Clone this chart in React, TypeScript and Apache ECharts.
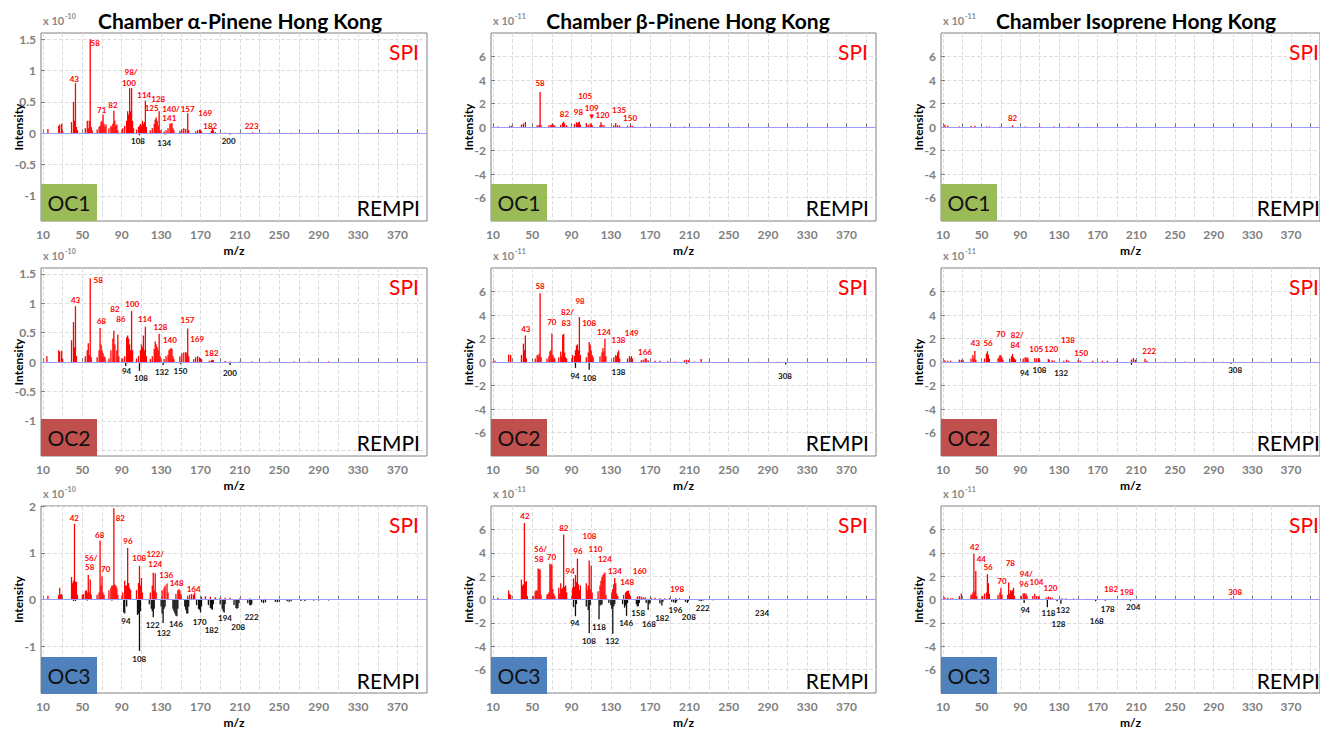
import React, { useEffect, useRef } from "react";
import * as echarts from "echarts";

type Pk = [number, number][];
type Lb = [number, number, string][];

// ---------- axis ticks ----------
const X_LABELS = [10, 50, 90, 130, 170, 210, 250, 290, 330, 370];
const X_GRID = [10, 30, 50, 70, 90, 110, 130, 150, 170, 190, 210, 230, 250, 270, 290, 310, 330, 350, 370, 390];
const Y_A1_TICKS = [-1, -0.5, 0, 0.5, 1, 1.5];
const Y_A2_TICKS = [-1.5, -1, -0.5, 0, 0.5, 1, 1.5];
const Y_A2_LABELS = [-1, -0.5, 0, 0.5, 1, 1.5];
const Y_A3_TICKS = [-1, 0, 1, 2];
const Y_B_TICKS = [-6, -4, -2, 0, 2, 4, 6];

const TITLES = ["Chamber α-Pinene Hong Kong", "Chamber β-Pinene Hong Kong", "Chamber Isoprene Hong Kong"];
const EXPONENTS = ["-10", "-11", "-11"];
const OC_NAMES = ["OC1", "OC2", "OC3"];

// ---------- α-Pinene OC1 (x1e-10) ----------
const A1_SPI: Pk = [[15,0.07],[26,0.12],[27,0.14],[29,0.15],[30,0.03],[39,0.18],[41,0.5],[42,0.2],[43,0.8],[44,0.1],[45,0.05],[53,0.08],[55,0.2],[56,0.08],[57,0.2],[58,1.5],[59,0.1],[60,0.05],[65,0.06],[67,0.1],[68,0.12],[69,0.18],[70,0.2],[71,0.3],[72,0.15],[73,0.1],[74,0.14],[77,0.08],[79,0.12],[80,0.1],[81,0.15],[82,0.36],[83,0.2],[84,0.12],[85,0.14],[86,0.05],[91,0.08],[93,0.12],[95,0.2],[96,0.35],[97,0.3],[98,0.72],[99,0.35],[100,0.72],[101,0.2],[102,0.08],[105,0.06],[107,0.1],[108,0.12],[109,0.15],[110,0.12],[111,0.2],[112,0.15],[113,0.18],[114,0.52],[115,0.1],[119,0.05],[121,0.08],[123,0.15],[124,0.22],[125,0.25],[126,0.2],[127,0.12],[128,0.35],[129,0.05],[133,0.03],[135,0.05],[137,0.08],[139,0.15],[140,0.16],[141,0.16],[142,0.08],[143,0.05],[149,0.04],[151,0.06],[153,0.08],[155,0.07],[157,0.32],[158,0.05],[165,0.03],[167,0.05],[169,0.06],[170,0.05],[171,0.03],[181,0.04],[182,0.08],[183,0.05],[185,0.02],[195,0.01],[200,0.01],[210,0.01],[223,0.015],[240,0.01],[262,0.01],[285,0.01],[310,0.01],[340,0.01],[365,0.01]];
const A1_REMPI: Pk = [[108,-0.03],[134,-0.02],[200,-0.02]];
const A1_SPI_LAB: Lb = [[63.1,1.44,"58"],[41.8,0.87,"43"],[99.4,0.97,"98/"],[97.3,0.8,"100"],[69.6,0.37,"71"],[81.1,0.45,"82"],[112.9,0.61,"114"],[127.1,0.54,"128"],[120.3,0.41,"125"],[140,0.39,"140/"],[156.9,0.39,"157"],[138.3,0.24,"141"],[174.8,0.33,"169"],[179.9,0.12,"182"],[221.9,0.11,"223"]];
const A1_REM_LAB: Lb = [[106.5,-0.13,"108"],[133.2,-0.15,"134"],[198.5,-0.12,"200"]];

// ---------- α-Pinene OC2 (x1e-10) ----------
const A2_SPI: Pk = [[14,0.1],[26,0.2],[27,0.18],[29,0.19],[30,0.05],[39,0.37],[41,0.68],[42,0.25],[43,0.95],[44,0.1],[53,0.1],[55,0.2],[56,0.32],[57,0.12],[58,1.42],[59,0.08],[65,0.08],[67,0.2],[68,0.58],[69,0.3],[70,0.2],[71,0.15],[72,0.1],[73,0.08],[77,0.06],[79,0.2],[81,0.4],[82,0.53],[83,0.3],[85,0.2],[86,0.47],[87,0.1],[91,0.06],[93,0.1],[95,0.42],[96,0.45],[97,0.4],[98,0.3],[99,0.2],[100,0.87],[101,0.2],[105,0.06],[107,0.1],[109,0.2],[110,0.3],[111,0.25],[112,0.45],[113,0.2],[114,0.6],[115,0.1],[119,0.05],[121,0.1],[123,0.22],[124,0.35],[125,0.3],[126,0.25],[127,0.2],[128,0.48],[129,0.1],[133,0.05],[135,0.1],[137,0.12],[138,0.2],[139,0.22],[140,0.24],[141,0.22],[142,0.1],[143,0.05],[149,0.1],[151,0.15],[153,0.16],[155,0.17],[156,0.15],[157,0.57],[158,0.1],[163,0.05],[165,0.08],[167,0.1],[169,0.08],[170,0.06],[171,0.05],[179,0.02],[181,0.03],[182,0.04],[183,0.03],[195,0.015],[200,0.01],[210,0.01],[222,0.01],[240,0.01],[265,0.01],[280,0.01],[300,0.01]];
const A2_REMPI: Pk = [[94,-0.07],[96,-0.02],[108,-0.15],[110,-0.02],[132,-0.05],[134,-0.02],[150,-0.04],[200,-0.05]];
const A2_SPI_LAB: Lb = [[66.1,1.4,"58"],[43.1,1.06,"43"],[83.1,0.91,"82"],[100.7,0.98,"100"],[89.1,0.74,"86"],[69.5,0.7,"68"],[113.5,0.74,"114"],[129.4,0.6,"128"],[156.8,0.71,"157"],[138.9,0.37,"140"],[166.6,0.4,"169"],[181.2,0.16,"182"]];
const A2_REM_LAB: Lb = [[94.9,-0.15,"94"],[109.5,-0.27,"108"],[130.8,-0.17,"132"],[149.7,-0.15,"150"],[199.8,-0.19,"200"]];

// ---------- α-Pinene OC3 (x1e-10) ----------
const A3_SPI: Pk = [[15,0.08],[26,0.1],[27,0.25],[28,0.1],[29,0.12],[39,0.48],[40,0.35],[41,0.4],[42,1.62],[43,0.38],[44,0.38],[45,0.1],[50,0.1],[51,0.12],[53,0.18],[54,0.2],[55,0.15],[56,0.53],[57,0.15],[58,0.43],[59,0.1],[65,0.1],[67,0.15],[68,1.26],[69,0.3],[70,0.5],[71,0.15],[72,0.1],[77,0.2],[79,0.25],[80,0.3],[81,0.3],[82,1.95],[83,0.32],[84,0.3],[85,0.25],[86,0.1],[91,0.15],[93,0.4],[94,0.3],[95,0.3],[96,1.1],[97,0.35],[98,0.25],[99,0.2],[105,0.2],[107,0.35],[108,0.72],[109,0.3],[110,0.46],[111,0.15],[119,0.15],[121,0.3],[122,0.57],[123,0.2],[124,0.56],[125,0.15],[131,0.2],[133,0.25],[134,0.3],[136,0.34],[137,0.15],[145,0.12],[147,0.2],[148,0.22],[149,0.2],[150,0.12],[157,0.08],[159,0.1],[161,0.12],[163,0.1],[164,0.15],[171,0.06],[175,0.07],[180,0.06],[185,0.05],[190,0.04],[195,0.04],[200,0.04],[210,0.03],[220,0.02],[235,0.015],[250,0.01],[270,0.01],[290,0.01]];
const A3_REMPI: Pk = [[41,-0.03],[43,-0.03],[55,-0.02],[80,-0.02],[92,-0.28],[93,-0.3],[95,-0.15],[106,-0.33],[107,-0.3],[108,-1.1],[109,-0.25],[118,-0.1],[120,-0.2],[121,-0.25],[122,-0.38],[123,-0.2],[130,-0.15],[131,-0.3],[132,-0.5],[133,-0.2],[134,-0.15],[142,-0.2],[143,-0.25],[144,-0.3],[145,-0.35],[146,-0.36],[147,-0.2],[154,-0.15],[155,-0.22],[156,-0.3],[157,-0.3],[158,-0.15],[166,-0.12],[168,-0.2],[169,-0.22],[170,-0.28],[171,-0.15],[178,-0.12],[180,-0.18],[181,-0.2],[182,-0.22],[183,-0.1],[190,-0.1],[192,-0.2],[193,-0.25],[194,-0.28],[195,-0.1],[204,-0.12],[206,-0.18],[207,-0.2],[208,-0.18],[209,-0.08],[218,-0.08],[220,-0.12],[221,-0.13],[222,-0.1],[232,-0.06],[234,-0.08],[236,-0.06],[246,-0.05],[248,-0.06],[250,-0.05],[258,-0.04],[260,-0.05],[262,-0.04],[272,-0.03],[276,-0.03],[285,-0.02],[290,-0.02],[300,-0.02],[310,-0.01]];
const A3_SPI_LAB: Lb = [[41.8,1.75,"42"],[88.5,1.75,"82"],[67.6,1.37,"68"],[96.3,1.26,"96"],[58.7,0.89,"56/"],[57.4,0.69,"58"],[73.7,0.65,"70"],[107.8,0.89,"108"],[124,0.97,"122/"],[124,0.76,"124"],[135.2,0.53,"136"],[145.7,0.36,"148"],[163,0.23,"164"]];
const A3_REM_LAB: Lb = [[94.3,-0.45,"94"],[121.4,-0.55,"122"],[145,-0.53,"146"],[132.5,-0.72,"132"],[107.8,-1.28,"108"],[169.1,-0.48,"170"],[181.3,-0.65,"182"],[194.8,-0.4,"194"],[208.3,-0.58,"208"],[221.9,-0.37,"222"]];

// ---------- β-Pinene OC1 (x1e-11) ----------
const B1_SPI: Pk = [[15,0.05],[27,0.1],[29,0.1],[39,0.2],[41,0.3],[43,0.42],[55,0.15],[57,0.2],[58,2.97],[59,0.15],[67,0.15],[69,0.2],[70,0.2],[71,0.25],[72,0.15],[73,0.1],[79,0.2],[81,0.35],[82,0.45],[83,0.3],[85,0.15],[93,0.25],[95,0.4],[96,0.3],[97,0.4],[98,0.45],[99,0.2],[105,0.34],[107,0.2],[109,0.3],[110,0.2],[111,0.15],[119,0.15],[120,0.4],[121,0.2],[123,0.15],[133,0.15],[135,0.35],[137,0.15],[139,0.1],[147,0.1],[150,0.15],[152,0.08],[165,0.04],[180,0.03],[195,0.03],[205,0.04],[220,0.03],[240,0.03],[260,0.02],[290,0.02],[320,0.02],[350,0.02]];
const B1_REMPI: Pk = [[198,-0.03],[240,-0.03]];
const B1_SPI_LAB: Lb = [[58,3.74,"58"],[103.8,2.6,"105"],[82.8,1.13,"82"],[97.1,1.25,"98"],[110.6,1.61,"109"],[121.5,1.02,"120"],[138.4,1.47,"135"],[149.6,0.76,"150"],[110.6,0.9,"▼"]];
const B1_REM_LAB: Lb = [];

// ---------- β-Pinene OC2 (x1e-11) ----------
const B2_SPI: Pk = [[12,0.1],[26,0.63],[28,0.6],[39,0.6],[41,1.57],[42,1.0],[43,2.26],[44,0.3],[53,0.3],[55,0.6],[56,0.5],[57,0.7],[58,5.86],[59,0.4],[65,0.3],[67,0.5],[68,0.9],[69,1.0],[70,2.43],[71,0.6],[72,0.4],[73,0.3],[77,0.4],[79,0.9],[80,0.5],[81,2.3],[82,2.4],[83,0.8],[84,0.4],[85,0.3],[91,0.6],[93,0.5],[94,1.0],[95,1.4],[96,1.5],[97,1.0],[98,3.83],[99,0.6],[105,0.4],[107,0.8],[108,1.71],[109,1.5],[110,1.0],[111,0.6],[112,0.4],[119,0.5],[121,0.8],[122,1.2],[123,0.9],[124,1.97],[125,0.5],[133,0.4],[135,0.6],[136,0.5],[137,0.8],[138,0.97],[139,0.3],[147,0.3],[149,0.5],[151,0.5],[152,0.3],[161,0.15],[163,0.2],[165,0.3],[166,0.3],[168,0.15],[175,0.1],[180,0.1],[188,0.06],[195,0.05],[205,0.15],[207,0.2],[209,0.15],[215,0.05],[222,0.25],[230,0.05],[250,0.03],[280,0.02],[300,0.02]];
const B2_REMPI: Pk = [[94,-0.5],[96,-0.05],[108,-0.65],[110,-0.05],[138,-0.1],[207,-0.15],[308,-0.2]];
const B2_SPI_LAB: Lb = [[58,6.49,"58"],[43.5,2.83,"43"],[98.7,5.2,"98"],[85.9,4.26,"82/"],[84.5,3.34,"83"],[69.9,3.4,"70"],[107.9,3.29,"108"],[123.1,2.54,"124"],[137.8,1.91,"138"],[151.3,2.43,"149"],[164.8,0.86,"166"]];
const B2_REM_LAB: Lb = [[93.6,-1.17,"94"],[108.3,-1.37,"108"],[137.8,-0.86,"138"],[307.3,-1.17,"308"]];

// ---------- β-Pinene OC3 (x1e-11) ----------
const B3_SPI: Pk = [[15,0.15],[26,0.77],[27,0.5],[28,0.4],[39,1.71],[40,1.2],[41,1.3],[42,6.54],[43,1.5],[44,1.57],[45,0.3],[51,0.3],[53,0.7],[54,0.8],[55,0.75],[56,2.66],[57,2.6],[58,2.55],[59,0.4],[65,0.4],[66,0.5],[67,0.6],[68,3.06],[69,3.0],[70,3.0],[71,0.9],[72,0.5],[73,0.3],[77,1.0],[78,0.5],[79,1.4],[80,0.9],[81,1.0],[82,5.57],[83,1.1],[84,1.2],[85,0.6],[91,1.0],[92,1.8],[93,1.1],[94,2.1],[95,1.5],[96,3.51],[97,1.3],[98,0.8],[99,1.2],[105,1.4],[106,0.8],[107,1.2],[108,3.34],[109,0.9],[110,2.9],[111,0.6],[117,0.7],[119,1.2],[120,1.6],[121,1.9],[122,2.1],[123,2.2],[124,2.31],[125,0.4],[131,0.6],[132,0.9],[133,1.3],[134,1.83],[135,1.4],[136,0.5],[137,0.3],[143,0.4],[145,0.6],[146,0.7],[147,0.75],[148,0.77],[149,0.5],[150,0.3],[157,0.25],[159,0.3],[161,0.25],[163,0.2],[165,0.2],[171,0.15],[175,0.15],[180,0.1],[185,0.1],[190,0.12],[196,0.12],[200,0.1],[210,0.06],[220,0.04],[235,0.03],[260,0.02],[290,0.02]];
const B3_REMPI: Pk = [[92,-0.66],[94,-1.43],[95,-0.4],[105,-0.6],[107,-0.9],[108,-2.89],[109,-0.5],[118,-1.69],[119,-0.5],[120,-0.5],[121,-0.4],[128,-0.3],[130,-0.5],[131,-0.8],[132,-2.94],[133,-0.6],[134,-0.4],[142,-0.4],[144,-0.7],[145,-0.5],[146,-1.4],[147,-0.3],[156,-0.4],[157,-0.6],[158,-0.55],[159,-0.3],[166,-0.3],[168,-0.89],[169,-0.4],[170,-0.3],[180,-0.35],[182,-0.51],[183,-0.2],[192,-0.2],[194,-0.25],[196,-0.3],[197,-0.15],[206,-0.2],[208,-0.3],[209,-0.15],[220,-0.1],[222,-0.15],[224,-0.08],[232,-0.05],[234,-0.06],[240,-0.04],[248,-0.04],[255,-0.03],[262,-0.03],[270,-0.02]];
const B3_SPI_LAB: Lb = [[42.6,7.14,"42"],[82.2,6.11,"82"],[108.3,5.4,"108"],[58.4,4.34,"56/"],[56.8,3.43,"58"],[69.6,3.63,"70"],[96.5,4.11,"96"],[114.4,4.29,"110"],[88.6,2.46,"94"],[123.9,3.43,"124"],[134.1,2.43,"134"],[159.5,2.4,"160"],[146.6,1.49,"148"],[197.5,0.86,"198"]];
const B3_REM_LAB: Lb = [[93.4,-2.0,"94"],[117.8,-2.37,"118"],[107.7,-3.57,"108"],[131.4,-3.51,"132"],[145.6,-2.0,"146"],[157.8,-1.14,"158"],[168.7,-2.09,"168"],[182.2,-1.6,"182"],[195.8,-0.94,"196"],[209.4,-1.51,"208"],[223.6,-0.74,"222"],[284,-1.14,"234"]];

// ---------- Isoprene OC1 (x1e-11) ----------
const C1_SPI: Pk = [[12,0.2],[15,0.1],[27,0.05],[39,0.08],[43,0.1],[55,0.05],[58,0.05],[69,0.05],[82,0.15],[95,0.05],[110,0.08],[125,0.05],[140,0.04],[160,0.03],[200,0.03],[250,0.02],[290,0.02],[330,0.02],[370,0.02]];
const C1_REMPI: Pk = [[275,-0.03]];
const C1_SPI_LAB: Lb = [[82,0.76,"82"]];
const C1_REM_LAB: Lb = [];

// ---------- Isoprene OC2 (x1e-11) ----------
const C2_SPI: Pk = [[12,0.15],[15,0.1],[18,0.1],[27,0.2],[29,0.2],[31,0.15],[39,0.3],[41,0.6],[42,0.3],[43,0.94],[44,0.2],[53,0.3],[55,0.7],[56,0.91],[57,0.6],[58,0.3],[67,0.3],[68,0.4],[69,0.6],[70,0.55],[71,0.4],[72,0.2],[79,0.3],[81,0.5],[82,0.68],[83,0.4],[84,0.3],[85,0.2],[93,0.3],[95,0.4],[96,0.3],[97,0.4],[98,0.3],[105,0.35],[107,0.3],[109,0.35],[110,0.2],[119,0.25],[120,0.2],[123,0.15],[125,0.1],[135,0.1],[138,0.2],[140,0.1],[150,0.15],[152,0.1],[165,0.1],[175,0.1],[180,0.1],[190,0.08],[205,0.2],[207,0.34],[209,0.2],[219,0.28],[221,0.1],[240,0.03],[260,0.03],[280,0.03],[300,0.03],[340,0.02]];
const C2_REMPI: Pk = [[94,-0.1],[108,-0.05],[132,-0.05],[205,-0.23],[308,-0.15]];
const C2_SPI_LAB: Lb = [[43.6,1.61,"43"],[56.7,1.61,"56"],[69.7,2.41,"70"],[86.9,2.32,"82/"],[84.8,1.47,"84"],[106.5,1.08,"105"],[122,1.13,"120"],[139.2,1.84,"138"],[152.9,0.76,"150"],[223.4,0.93,"222"]];
const C2_REM_LAB: Lb = [[94.4,-0.91,"94"],[109.9,-0.65,"108"],[132.3,-0.91,"132"],[312.2,-0.65,"308"]];

// ---------- Isoprene OC3 (x1e-11) ----------
const C3_SPI: Pk = [[12,0.2],[15,0.15],[18,0.1],[20,0.1],[27,0.3],[29,0.51],[39,0.4],[40,0.4],[41,0.6],[42,3.91],[43,0.7],[44,2.43],[45,0.3],[51,0.3],[53,0.5],[55,0.6],[56,2.17],[57,1.4],[58,0.5],[67,0.4],[69,0.6],[70,1.0],[71,0.4],[77,0.4],[78,1.46],[79,0.5],[80,0.8],[81,0.7],[82,0.8],[83,1.0],[84,0.3],[91,0.3],[93,0.5],[94,0.55],[95,0.45],[96,0.5],[97,0.3],[103,0.3],[105,0.49],[107,0.3],[109,0.25],[117,0.15],[119,0.25],[121,0.2],[123,0.15],[133,0.1],[137,0.08],[145,0.08],[150,0.06],[160,0.06],[170,0.05],[180,0.05],[190,0.04],[200,0.05],[210,0.03],[230,0.02],[260,0.02],[290,0.02],[308,0.1],[340,0.02]];
const C3_REMPI: Pk = [[94,-0.29],[118,-0.66],[128,-0.15],[132,-0.37],[168,-0.15],[178,-0.1],[204,-0.1]];
const C3_SPI_LAB: Lb = [[42.8,4.51,"42"],[49.7,3.43,"44"],[56.7,2.77,"56"],[79.7,3.09,"78"],[71.1,1.57,"70"],[96.2,2.14,"94/"],[93.8,1.29,"96"],[106.8,1.51,"104"],[121.3,0.97,"120"],[183.9,0.91,"182"],[200.1,0.66,"198"],[312.2,0.63,"308"]];
const C3_REM_LAB: Lb = [[95.2,-0.86,"94"],[119.2,-1.14,"118"],[134.1,-0.89,"132"],[129.5,-2.06,"128"],[169.1,-1.86,"168"],[180.5,-0.8,"178"],[206.9,-0.66,"204"]];

// ---------- layout / style ----------
const FONT = 'Lato, "Open Sans", sans-serif';
const COLS = [
  { left: 41, width: 386, spiRight: 419 },
  { left: 491, width: 385, spiRight: 868 },
  { left: 941, width: 380, spiRight: 1319 },
];
const ROW_TOPS = [33, 268, 506];
const H = 188;
const OC_COLORS = ["#9bbb59", "#c0504d", "#4f81bd"];

interface YCfg { min: number; max: number; ticks: number[]; labels: number[] }
const Y_A1: YCfg = { min: -1.4, max: 1.6, ticks: Y_A1_TICKS, labels: Y_A1_TICKS };
const Y_A2: YCfg = { min: -1.6, max: 1.6, ticks: Y_A2_TICKS, labels: Y_A2_LABELS };
const Y_A3: YCfg = { min: -2, max: 2, ticks: Y_A3_TICKS, labels: Y_A3_TICKS };
const Y_B: YCfg = { min: -8, max: 8, ticks: Y_B_TICKS, labels: Y_B_TICKS };

interface Panel { col: number; row: number; spi: Pk; rempi: Pk; spiLab: Lb; remLab: Lb; y: YCfg }
const PANELS: Panel[] = [
  { col: 0, row: 0, spi: A1_SPI, rempi: A1_REMPI, spiLab: A1_SPI_LAB, remLab: A1_REM_LAB, y: Y_A1 },
  { col: 0, row: 1, spi: A2_SPI, rempi: A2_REMPI, spiLab: A2_SPI_LAB, remLab: A2_REM_LAB, y: Y_A2 },
  { col: 0, row: 2, spi: A3_SPI, rempi: A3_REMPI, spiLab: A3_SPI_LAB, remLab: A3_REM_LAB, y: Y_A3 },
  { col: 1, row: 0, spi: B1_SPI, rempi: B1_REMPI, spiLab: B1_SPI_LAB, remLab: B1_REM_LAB, y: Y_B },
  { col: 1, row: 1, spi: B2_SPI, rempi: B2_REMPI, spiLab: B2_SPI_LAB, remLab: B2_REM_LAB, y: Y_B },
  { col: 1, row: 2, spi: B3_SPI, rempi: B3_REMPI, spiLab: B3_SPI_LAB, remLab: B3_REM_LAB, y: Y_B },
  { col: 2, row: 0, spi: C1_SPI, rempi: C1_REMPI, spiLab: C1_SPI_LAB, remLab: C1_REM_LAB, y: Y_B },
  { col: 2, row: 1, spi: C2_SPI, rempi: C2_REMPI, spiLab: C2_SPI_LAB, remLab: C2_REM_LAB, y: Y_B },
  { col: 2, row: 2, spi: C3_SPI, rempi: C3_REMPI, spiLab: C3_SPI_LAB, remLab: C3_REM_LAB, y: Y_B },
];

function stickSeries(i: number, data: Pk, color: string, baseline: boolean) {
  const s: any = {
    type: "custom",
    xAxisIndex: i,
    yAxisIndex: i,
    data,
    silent: true,
    renderItem: (_params: any, api: any) => {
      const a = api.coord([api.value(0), 0]);
      const b = api.coord([api.value(0), api.value(1)]);
      return {
        type: "line",
        shape: { x1: a[0], y1: a[1], x2: b[0], y2: b[1] },
        style: { stroke: color, lineWidth: 1.3 },
      };
    },
  };
  if (baseline) {
    s.markLine = {
      silent: true,
      symbol: "none",
      label: { show: false },
      lineStyle: { color: "#9a9aff", width: 1, type: "solid" },
      data: [{ yAxis: 0 }],
    };
  }
  return s;
}

function labelSeries(i: number, labs: Lb, color: string) {
  return {
    type: "custom",
    xAxisIndex: i,
    yAxisIndex: i,
    data: labs.map((l) => [l[0], l[1]]),
    silent: true,
    z: 5,
    renderItem: (params: any, api: any) => {
      const p = api.coord([api.value(0), api.value(1)]);
      return {
        type: "text",
        x: p[0],
        y: p[1],
        style: {
          text: labs[params.dataIndex][2],
          fill: color,
          font: `bold 8px ${FONT}`,
          align: "center",
          verticalAlign: "middle",
        },
      };
    },
  };
}

export default function App() {
  const ref = useRef<HTMLDivElement>(null);
  useEffect(() => {
    const chart = echarts.init(ref.current!, null, { renderer: "svg" });
    const grid: any[] = [];
    const xAxis: any[] = [];
    const yAxis: any[] = [];
    const series: any[] = [];
    const graphic: any[] = [];

    PANELS.forEach((p, i) => {
      const c = COLS[p.col];
      const top = ROW_TOPS[p.row];
      grid.push({
        left: c.left, top, width: c.width, height: H,
        show: true, borderColor: "#808080", borderWidth: 1, backgroundColor: "#ffffff",
      });
      xAxis.push({
        type: "value", gridIndex: i, min: 8, max: 400,
        name: "m/z", nameLocation: "middle", nameGap: 23, nameMoveOverlap: false,
        nameTextStyle: { color: "#000", fontWeight: "bold", fontSize: 12, fontFamily: FONT },
        axisLine: { show: false },
        axisTick: { show: true, inside: true, length: 4, customValues: X_GRID, lineStyle: { color: "#808080" } },
        axisLabel: { customValues: X_LABELS, color: "#7f7f7f", fontWeight: "bold", fontSize: 12, fontFamily: FONT, margin: 7 },
        splitLine: { show: true, lineStyle: { color: "#dedede", type: "dashed", width: 1 } },
      });
      yAxis.push({
        type: "value", gridIndex: i, min: p.y.min, max: p.y.max,
        name: "Intensity", nameLocation: "middle", nameGap: 17, nameRotate: 90, nameMoveOverlap: false,
        nameTextStyle: { color: "#000", fontWeight: "bold", fontSize: 12, fontFamily: FONT },
        axisLine: { show: false },
        axisTick: { show: true, inside: true, length: 4, customValues: p.y.ticks, lineStyle: { color: "#808080" } },
        axisLabel: { customValues: p.y.labels, color: "#7f7f7f", fontWeight: "bold", fontSize: 12, fontFamily: FONT, margin: 5,
          formatter: (v: number) => String(v) },
        splitLine: { show: true, lineStyle: { color: "#dedede", type: "dashed", width: 1 } },
      });
      series.push(stickSeries(i, p.spi, "#ff0000", false));
      series.push(stickSeries(i, p.rempi, "#111111", true));
      series.push(labelSeries(i, p.spiLab, "#ff0000"));
      series.push(labelSeries(i, p.remLab, "#111111"));

      const bottom = top + H;
      graphic.push({
        type: "rect", shape: { x: c.left, y: bottom - 37, width: 56, height: 37 },
        style: { fill: OC_COLORS[p.row] }, z: 10,
      });
      graphic.push({
        type: "text", x: c.left + 28, y: bottom - 18.5, z: 11,
        style: { text: OC_NAMES[p.row], fill: "#111", font: `21px ${FONT}`, align: "center", verticalAlign: "middle", textAlign: "center", textVerticalAlign: "middle" },
      });
      graphic.push({
        type: "text", x: c.spiRight, y: top + 18, z: 11,
        style: { text: "SPI", fill: "#ff0000", font: `21px ${FONT}`, align: "right", verticalAlign: "middle", textAlign: "right", textVerticalAlign: "middle" },
      });
      graphic.push({
        type: "text", x: c.spiRight + 1, y: bottom - 14, z: 11,
        style: { text: "REMPI", fill: "#000", font: `21px ${FONT}`, align: "right", verticalAlign: "middle", textAlign: "right", textVerticalAlign: "middle" },
      });
      graphic.push({
        type: "text", x: c.left + 2, y: top - 13, z: 11,
        style: { text: "x 10", fill: "#8a8a8a", font: `bold 11px ${FONT}`, align: "left", verticalAlign: "middle", textAlign: "left", textVerticalAlign: "middle" },
      });
      graphic.push({
        type: "text", x: c.left + 24, y: top - 17, z: 11,
        style: { text: EXPONENTS[p.col], fill: "#8a8a8a", font: `bold 7px ${FONT}`, align: "left", verticalAlign: "middle", textAlign: "left", textVerticalAlign: "middle" },
      });
    });

    const titleX = [240, 688, 1136];
    TITLES.forEach((t, k) => {
      graphic.push({
        type: "text", x: titleX[k], y: 20, z: 11,
        style: { text: t, fill: "#000", font: `bold 21px ${FONT}`, align: "center", verticalAlign: "middle", textAlign: "center", textVerticalAlign: "middle" },
      });
    });

    chart.setOption({
      animation: false,
      backgroundColor: "#ffffff",
      grid, xAxis, yAxis, series, graphic,
    });
    return () => chart.dispose();
  }, []);

  return (
    <div
      ref={ref}
      style={{ position: "absolute", left: 0, top: 0, width: 1320, height: 729, background: "#fff" }}
    />
  );
}
